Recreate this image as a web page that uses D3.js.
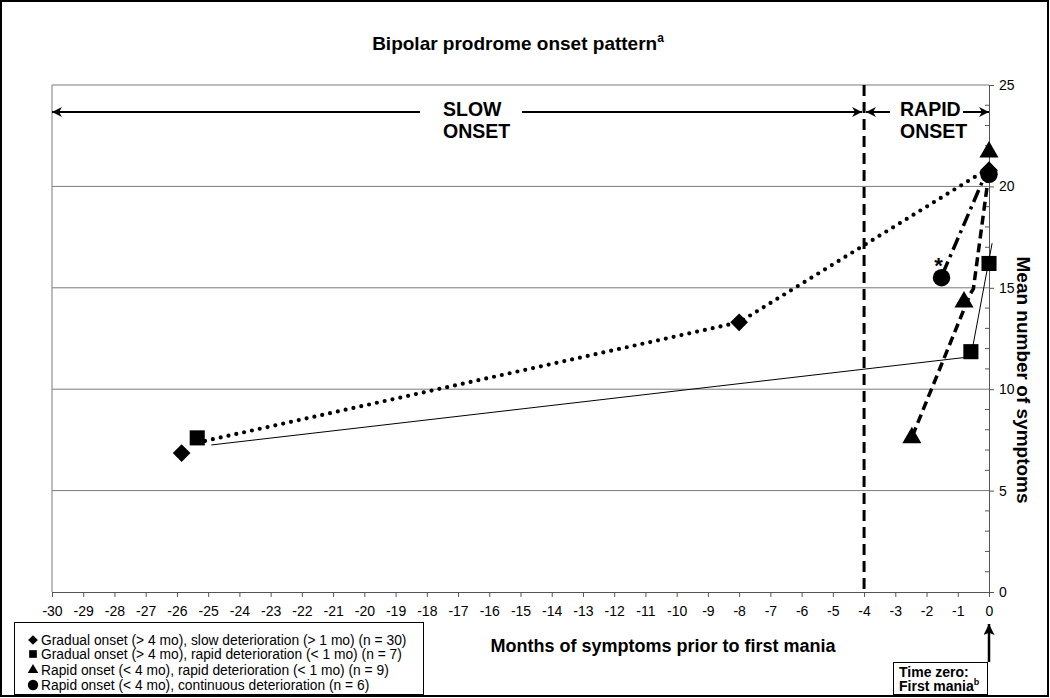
<!DOCTYPE html>
<html><head><meta charset="utf-8">
<script src="https://cdn.jsdelivr.net/npm/d3@7"></script>
<style>
html,body{margin:0;padding:0;background:#fff;}
svg{display:block;font-family:"Liberation Sans",Arial,Helvetica,sans-serif;}
</style></head>
<body>
<svg id="chart" width="1050" height="698"></svg>
<script>
// ---------- data ----------
const title = "Bipolar prodrome onset pattern";
const xTicks = d3.range(-30, 1, 1);
const yTicks = [0, 5, 10, 15, 20, 25];
const yMinorTicks = d3.range(0, 26, 1);
const gridValues = [5, 10, 15, 20, 25];
const onsetCutoff = -4;

// Gradual onset, slow deterioration (diamond, dotted)
const diamondMonths = [-25.85, -8.0, 0];
const diamondSymptoms = [6.85, 13.3, 20.8];
const dottedLineMonths = [-25.1, -8.0, 0];
const dottedLineSymptoms = [7.45, 13.3, 20.9];

// Gradual onset, rapid deterioration (square, thin solid)
const squareMonths = [-25.35, -0.58, 0];
const squareSymptoms = [7.6, 11.85, 16.2];
const thinLineMonths = [-24.9, -0.58, 0.1];
const thinLineSymptoms = [7.25, 11.6, 17.2];

// Rapid onset, rapid deterioration (triangle, dashed)
const triangleMonths = [-2.47, -0.8, 0];
const triangleSymptoms = [7.6, 14.3, 21.7];
const dashedLineMonths = [-2.45, -0.6, -0.5, 0];
const dashedLineSymptoms = [7.7, 14.7, 14.95, 20.7];

// Rapid onset, continuous deterioration (circle, dash-dot)
const circleMonths = [-1.52, 0];
const circleSymptoms = [15.5, 20.6];
const dashDotLineMonths = [-1.48, 0];
const dashDotLineSymptoms = [15.7, 21.0];

const legendLabels = [
  "Gradual onset (> 4 mo), slow deterioration (> 1 mo) (n = 30)",
  "Gradual onset (> 4 mo), rapid deterioration (< 1 mo) (n = 7)",
  "Rapid onset (< 4 mo), rapid deterioration (< 1 mo) (n = 9)",
  "Rapid onset (< 4 mo), continuous deterioration (n = 6)"
];
const legendShapes = ["diamond", "square", "triangle", "circle"];

// ---------- chart ----------
const svg = d3.select("#chart");
const x = d3.scaleLinear().domain([-30, 0]).range([52, 989]);
const y = d3.scaleLinear().domain([0, 25]).range([592, 85]);

// outer frame
svg.append("rect").attr("x", 1).attr("y", 1).attr("width", 1047).attr("height", 695)
  .attr("fill", "none").attr("stroke", "#000").attr("stroke-width", 2);

// arrow marker defs
const defs = svg.append("defs");
defs.append("marker").attr("id", "ah").attr("viewBox", "0 0 10 10")
  .attr("refX", 10).attr("refY", 5).attr("markerWidth", 10).attr("markerHeight", 10)
  .attr("markerUnits", "userSpaceOnUse").attr("orient", "auto-start-reverse")
  .append("path").attr("d", "M0,0 L10,5 L0,10 L3,5 Z").attr("fill", "#000");
defs.append("marker").attr("id", "ahBig").attr("viewBox", "0 0 10 10")
  .attr("refX", 10).attr("refY", 5).attr("markerWidth", 13).attr("markerHeight", 11)
  .attr("markerUnits", "userSpaceOnUse").attr("orient", "auto")
  .append("path").attr("d", "M0,0 L10,5 L0,10 L2,5 Z").attr("fill", "#000");

// gridlines
svg.append("g").selectAll("line").data(gridValues).join("line")
  .attr("x1", x(-30)).attr("x2", x(0)).attr("y1", d => y(d)).attr("y2", d => y(d))
  .attr("stroke", "#7a7a7a").attr("stroke-width", 1);
svg.append("line").attr("x1", x(-30)).attr("x2", x(-30)).attr("y1", y(25)).attr("y2", y(0))
  .attr("stroke", "#7a7a7a").attr("stroke-width", 1);

// x axis
const xAxis = d3.axisBottom(x).tickValues(xTicks).tickSize(5).tickPadding(9)
  .tickFormat(d => String(d));
const gx = svg.append("g").attr("transform", `translate(0,${y(0)})`).call(xAxis);
gx.select(".domain").attr("stroke", "#555");
gx.selectAll(".tick line").attr("stroke", "#555");
gx.selectAll("text").attr("font-size", 14).attr("fill", "#000")
  .attr("font-family", "'Liberation Sans',Arial,sans-serif");

// y axis (right)
const gyMinor = svg.append("g").attr("transform", `translate(${x(0)},0)`);
gyMinor.selectAll("line").data(yMinorTicks.filter(d => d % 5 !== 0)).join("line")
  .attr("x1", -4).attr("x2", 0).attr("y1", d => y(d)).attr("y2", d => y(d))
  .attr("stroke", "#555");
const yAxis = d3.axisRight(y).tickValues(yTicks).tickSize(5).tickPadding(5);
const gy = svg.append("g").attr("transform", `translate(${x(0)},0)`).call(yAxis);
gy.select(".domain").attr("stroke", "#555");
gy.selectAll(".tick line").attr("stroke", "#555");
gy.selectAll("text").attr("font-size", 14).attr("fill", "#000")
  .attr("font-family", "'Liberation Sans',Arial,sans-serif");

// vertical dashed cutoff
svg.append("line").attr("x1", x(onsetCutoff)).attr("x2", x(onsetCutoff))
  .attr("y1", y(25)).attr("y2", y(0))
  .attr("stroke", "#000").attr("stroke-width", 3).attr("stroke-dasharray", "11 6");

// onset arrows
const arrowY = 112;
function arrow(x1, x2) {
  svg.append("line").attr("x1", x1).attr("x2", x2).attr("y1", arrowY).attr("y2", arrowY)
    .attr("stroke", "#000").attr("stroke-width", 2).attr("marker-end", "url(#ah)");
}
arrow(420, x(-30));
arrow(522, x(onsetCutoff) - 2);
arrow(890, x(onsetCutoff) + 2);
arrow(963, x(0));
const onsetText = svg.append("g").attr("font-weight", "bold").attr("font-size", 19.5);
onsetText.append("text").attr("x", 443).attr("y", 116).text("SLOW");
onsetText.append("text").attr("x", 443).attr("y", 138).text("ONSET");
onsetText.append("text").attr("x", 900).attr("y", 116).text("RAPID");
onsetText.append("text").attr("x", 900).attr("y", 138).text("ONSET");

// series lines
const line = d3.line().x(d => x(d[0])).y(d => y(d[1]));
const zip = (a, b) => a.map((v, i) => [v, b[i]]);
svg.append("path").datum(zip(thinLineMonths, thinLineSymptoms)).attr("d", line)
  .attr("fill", "none").attr("stroke", "#000").attr("stroke-width", 1);
svg.append("path").datum(zip(dottedLineMonths, dottedLineSymptoms)).attr("d", line)
  .attr("fill", "none").attr("stroke", "#000").attr("stroke-width", 4.2)
  .attr("stroke-linecap", "round").attr("stroke-dasharray", "0 8");
svg.append("path").datum(zip(dashedLineMonths, dashedLineSymptoms)).attr("d", line)
  .attr("fill", "none").attr("stroke", "#000").attr("stroke-width", 3.5)
  .attr("stroke-dasharray", "9 5");
svg.append("path").datum(zip(dashDotLineMonths, dashDotLineSymptoms)).attr("d", line)
  .attr("fill", "none").attr("stroke", "#000").attr("stroke-width", 3.5)
  .attr("stroke-dasharray", "13 5 3 5");

// markers
const sym = {
  diamond: d3.symbol().type(d3.symbolDiamond2).size(200),
  square: d3.symbol().type(d3.symbolSquare2).size(290),
  triangle: d3.symbol().type(d3.symbolTriangle2).size(260),
  circle: d3.symbol().type(d3.symbolCircle).size(240)
};
function markers(mx, my, shape) {
  svg.append("g").selectAll("path").data(zip(mx, my)).join("path")
    .attr("transform", d => `translate(${x(d[0])},${y(d[1])})`)
    .attr("d", sym[shape]()).attr("fill", "#000");
}
markers(diamondMonths, diamondSymptoms, "diamond");
markers(squareMonths, squareSymptoms, "square");
markers(circleMonths, circleSymptoms, "circle");
markers(triangleMonths, triangleSymptoms, "triangle");

// asterisk
svg.append("text").attr("x", x(circleMonths[0]) - 3).attr("y", y(circleSymptoms[0]) - 5)
  .attr("text-anchor", "middle").attr("font-size", 22).attr("font-weight", "bold").text("*");

// title
const t = svg.append("text").attr("x", 518).attr("y", 50).attr("text-anchor", "middle")
  .attr("font-size", 19).attr("font-weight", "bold");
t.append("tspan").text(title);
t.append("tspan").attr("font-size", 12).attr("dy", -8).text("a");

// axis titles
svg.append("text").attr("x", 663).attr("y", 652).attr("text-anchor", "middle")
  .attr("font-size", 18).attr("font-weight", "bold").text("Months of symptoms prior to first mania");
svg.append("text").attr("transform", `translate(1017,380) rotate(90)`)
  .attr("text-anchor", "middle").attr("font-size", 19).attr("font-weight", "bold")
  .text("Mean number of symptoms");

// legend
svg.append("rect").attr("x", 14.5).attr("y", 622.5).attr("width", 409).attr("height", 72)
  .attr("fill", "#fff").attr("stroke", "#000").attr("stroke-width", 1);
const legendY = [640, 654, 670, 685];
const legSym = {
  diamond: d3.symbol().type(d3.symbolDiamond2).size(60),
  square: d3.symbol().type(d3.symbolSquare2).size(75),
  triangle: d3.symbol().type(d3.symbolTriangle2).size(80),
  circle: d3.symbol().type(d3.symbolCircle).size(85)
};
const lg = svg.append("g");
legendLabels.forEach((lab, i) => {
  lg.append("path").attr("transform", `translate(33,${legendY[i]})`)
    .attr("d", legSym[legendShapes[i]]()).attr("fill", "#000");
  lg.append("text").attr("x", 41).attr("y", legendY[i] + 5).attr("font-size", 13.8).text(lab);
});

// time zero box
svg.append("rect").attr("x", 893.5).attr("y", 662.5).attr("width", 94).attr("height", 32)
  .attr("fill", "#fff").attr("stroke", "#000").attr("stroke-width", 1);
svg.append("line").attr("x1", x(0)).attr("x2", x(0)).attr("y1", 662).attr("y2", 624)
  .attr("stroke", "#000").attr("stroke-width", 2.5).attr("marker-end", "url(#ahBig)");
const tz = svg.append("g").attr("font-size", 14).attr("font-weight", "bold");
tz.append("text").attr("x", 899).attr("y", 677).text("Time zero:");
const fm = tz.append("text").attr("x", 899).attr("y", 691);
fm.append("tspan").text("First mania");
fm.append("tspan").attr("font-size", 9).attr("dy", -6).text("b");
</script>
</body></html>
